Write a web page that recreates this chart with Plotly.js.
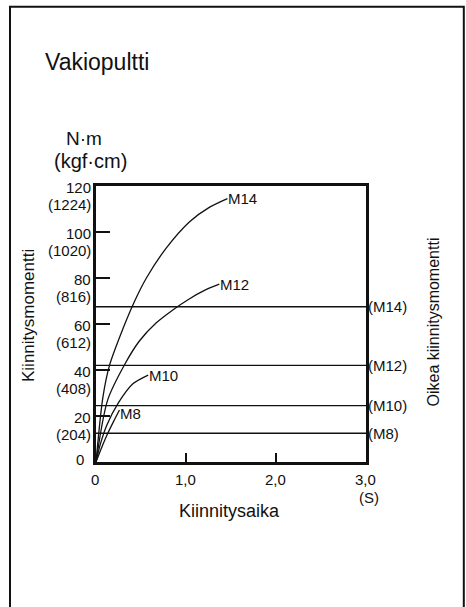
<!DOCTYPE html>
<html>
<head>
<meta charset="utf-8">
<script src="https://cdn.plot.ly/plotly-3.0.1.min.js"></script>
<style>html,body{margin:0;padding:0;background:#fff;}#chart{width:466px;height:607px;}</style>
</head>
<body>
<div id="chart"></div>
<script>
// ---- data ----
const boltNames = ["M14", "M12", "M10", "M8"];
const m14Time = [0, 0.076, 0.15, 0.3, 0.43, 0.56, 0.78, 1.04, 1.25, 1.46];
const m14Torque = [0, 28, 42, 58, 70, 80, 93, 104.5, 110.5, 114.5];
const m12Time = [0, 0.13, 0.32, 0.48, 0.67, 0.85, 1.04, 1.2, 1.37];
const m12Torque = [0, 27, 42.5, 52.5, 60.5, 66, 71, 74.5, 77.3];
const m10Time = [0, 0.05, 0.12, 0.25, 0.41, 0.58];
const m10Torque = [0, 8, 16, 25.8, 34, 37.8];
const m8Time = [0, 0.06, 0.131, 0.2, 0.261];
const m8Torque = [0, 6, 12.5, 18, 22.6];
const properTorque = [67.5, 42, 24.5, 12.5];   // M14, M12, M10, M8
const properLabels = ["(M14)", "(M12)", "(M10)", "(M8)"];
const yTickVals = [0, 20, 40, 60, 80, 100, 120];
const yTickNm = ["0", "20", "40", "60", "80", "100", "120"];
const yTickKgf = ["", "(204)", "(408)", "(612)", "(816)", "(1020)", "(1224)"];
const xTickVals = [0, 1, 2, 3];
const xTickText = ["0", "1,0", "2,0", "3,0"];
const xUnit = "(S)";
const chartTitle = "Vakiopultti";
const unitNm = "N·m";
const unitKgf = "(kgf·cm)";
const xTitle = "Kiinnitysaika";
const yTitle = "Kiinnitysmomentti";
const y2Title = "Oikea kiinnitysmomentti";
const xMax = 3;

// ---- layout helpers ----
const W = 466, H = 607;
const M = {l: 96, r: 100, t: 186, b: 145};
const PW = W - M.l - M.r, PH = H - M.t - M.b;
const px = x => (x - M.l) / PW;          // pixel -> paper x
const py = y => (H - M.b - y) / PH;      // pixel -> paper y
const FONT = "Liberation Sans, Arial, Helvetica, sans-serif";
const INK = "#111";

const curveSets = [[m14Time, m14Torque], [m12Time, m12Torque], [m10Time, m10Torque], [m8Time, m8Torque]];

const traces = [];
curveSets.forEach((c, i) => {
  traces.push({x: c[0], y: c[1], type: "scatter", mode: "lines",
    line: {color: INK, width: 1.3, shape: "spline", smoothing: 0.8},
    name: boltNames[i], hoverinfo: "skip", cliponaxis: false});
});
properTorque.forEach((v, i) => {
  traces.push({x: [0, xMax], y: [v, v], type: "scatter", mode: "lines",
    line: {color: INK, width: 1.3}, name: properLabels[i], hoverinfo: "skip"});
});

const ann = [];
// curve end labels
curveSets.forEach((c, i) => {
  const n = c[0].length - 1;
  ann.push({x: c[0][n], y: c[1][n], xref: "x", yref: "y", text: boltNames[i],
    showarrow: false, xanchor: "left", yanchor: "middle", xshift: -1, yshift: i === 3 ? -3 : 0,
    font: {family: FONT, size: 15, color: INK}});
});
// right proper torque labels
properTorque.forEach((v, i) => {
  ann.push({x: 1, y: v, xref: "paper", yref: "y", text: properLabels[i],
    showarrow: false, xanchor: "left", yanchor: "middle", xshift: 0,
    font: {family: FONT, size: 15, color: INK}});
});
// y tick labels (two lines)
yTickVals.forEach((v, i) => {
  const isZero = v === 0;
  ann.push({x: 0, y: v, xref: "paper", yref: "y", text: yTickNm[i], showarrow: false,
    xanchor: "right", yanchor: "middle", xshift: isZero ? -11 : -4, yshift: isZero ? 3 : -1,
    borderpad: 0, font: {family: FONT, size: 15, color: INK}});
  if (yTickKgf[i]) {
    ann.push({x: 0, y: v, xref: "paper", yref: "y", text: yTickKgf[i], showarrow: false,
      xanchor: "right", yanchor: "middle", xshift: -4, yshift: -18.5,
      borderpad: 0, font: {family: FONT, size: 15, color: INK}});
  }
});
// x tick labels
xTickVals.forEach((v, i) => {
  ann.push({x: v, y: 0, xref: "x", yref: "paper", text: xTickText[i], showarrow: false,
    xanchor: "center", yanchor: "middle", yshift: -17, xshift: -1,
    font: {family: FONT, size: 15, color: INK}});
});
ann.push({x: xMax, y: 0, xref: "x", yref: "paper", text: xUnit, showarrow: false,
  xanchor: "center", yanchor: "middle", yshift: -35, xshift: 3,
  font: {family: FONT, size: 15, color: INK}});
// units
ann.push({x: px(84), y: py(139), xref: "paper", yref: "paper", text: unitNm, showarrow: false,
  xanchor: "center", yanchor: "middle", font: {family: FONT, size: 19, color: INK}});
ann.push({x: px(90), y: py(161), xref: "paper", yref: "paper", text: unitKgf, showarrow: false,
  xanchor: "center", yanchor: "middle", font: {family: FONT, size: 20, color: INK}});
// axis titles
ann.push({x: px(229), y: py(511), xref: "paper", yref: "paper", text: xTitle, showarrow: false,
  xanchor: "center", yanchor: "middle", font: {family: FONT, size: 18, color: INK}});
ann.push({x: px(28), y: py(316), xref: "paper", yref: "paper", text: yTitle, showarrow: false,
  textangle: -90, xanchor: "center", yanchor: "middle", font: {family: FONT, size: 17, color: INK}});
ann.push({x: px(432.5), y: py(322), xref: "paper", yref: "paper", text: y2Title, showarrow: false,
  textangle: -90, xanchor: "center", yanchor: "middle", font: {family: FONT, size: 16, color: INK}});

const axisCommon = {showline: true, linewidth: 3, linecolor: INK, mirror: true,
  showgrid: false, zeroline: false, showticklabels: false, ticks: "inside",
  tickwidth: 1.5, tickcolor: INK, fixedrange: true};

const layout = {
  width: W, height: H, margin: M, showlegend: false,
  paper_bgcolor: "#fff", plot_bgcolor: "#fff",
  font: {family: FONT, color: INK},
  title: {text: chartTitle, x: 45 / W, xanchor: "left", xref: "container",
    y: 1 - 62 / H, yref: "container", yanchor: "middle",
    font: {family: FONT, size: 23, color: INK}},
  xaxis: Object.assign({}, axisCommon, {range: [0, xMax], tickvals: [1, 2], ticklen: 9}),
  yaxis: Object.assign({}, axisCommon, {range: [0, 120], tickvals: [20, 40, 60, 80, 100], ticklen: 14}),
  annotations: ann,
  shapes: [{type: "rect", xref: "paper", yref: "paper",
    x0: px(10), x1: px(463.8), y0: py(6.7), y1: py(640),
    line: {color: INK, width: 2}, fillcolor: "rgba(0,0,0,0)", layer: "above"}]
};

Plotly.newPlot("chart", traces, layout, {displayModeBar: false, staticPlot: true});
</script>
</body>
</html>
